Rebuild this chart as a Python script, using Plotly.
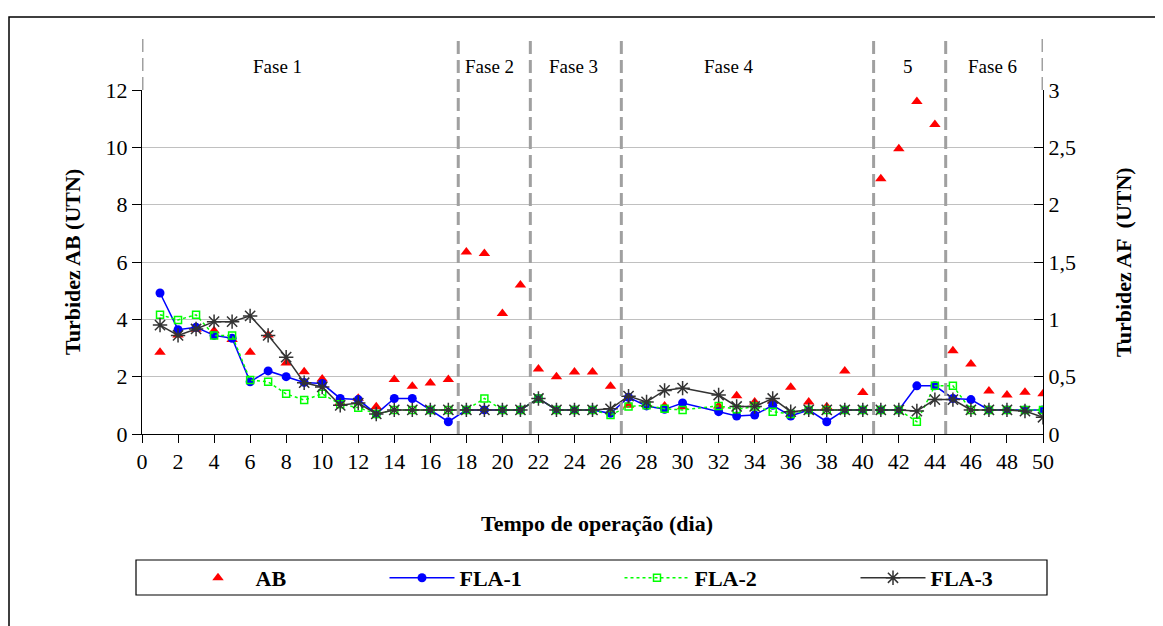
import plotly.graph_objects as go

# ---------------- data ----------------
days = list(range(1, 31)) + list(range(32, 51))

ab = [2.85, 3.45, 3.65, 3.6, 3.3, 2.85, 3.45, 2.48, 2.17, 1.92,
      1.1, 1.25, 0.95, 1.9, 1.67, 1.78, 1.9, 6.35, 6.3, 4.2,
      5.2, 2.27, 2.0, 2.16, 2.16, 1.67, 1.0, 1.05, 0.98, 0.95,
      0.98, 1.33, 1.12, 1.15, 1.63, 1.12, 0.95, 2.2, 1.45,
      8.9, 9.95, 11.6, 10.8, 2.9, 2.44, 1.5, 1.36, 1.46, 1.4]

fla1 = [1.23, 0.91, 0.93, 0.86, 0.835, 0.455, 0.55, 0.50, 0.45, 0.44,
        0.31, 0.30, 0.175, 0.31, 0.31, 0.21, 0.107, 0.21, 0.21, 0.21,
        0.21, 0.31, 0.21, 0.21, 0.21, 0.18, 0.32, 0.245, 0.215, 0.27,
        0.195, 0.157, 0.166, 0.25, 0.157, 0.21, 0.107, 0.21, 0.21,
        0.21, 0.21, 0.42, 0.42, 0.31, 0.30, 0.21, 0.21, 0.21, 0.21]

fla2 = [1.04, 0.995, 1.04, 0.86, 0.86, 0.47, 0.455, 0.35, 0.296, 0.35,
        0.26, 0.23, 0.175, 0.21, 0.21, 0.21, 0.21, 0.21, 0.31, 0.21,
        0.21, 0.31, 0.21, 0.21, 0.21, 0.166, 0.24, 0.25, 0.22, 0.21,
        0.245, 0.215, 0.24, 0.195, 0.175, 0.21, 0.21, 0.21, 0.21,
        0.21, 0.21, 0.107, 0.42, 0.42, 0.21, 0.21, 0.21, 0.21, 0.21]

fla3 = [0.95, 0.86, 0.916, 0.98, 0.98, 1.03, 0.86, 0.67, 0.447, 0.41,
        0.25, 0.27, 0.175, 0.21, 0.21, 0.21, 0.21, 0.21, 0.21, 0.21,
        0.21, 0.31, 0.21, 0.21, 0.21, 0.22, 0.33, 0.28, 0.38, 0.40,
        0.34, 0.24, 0.24, 0.31, 0.195, 0.21, 0.21, 0.21, 0.21,
        0.21, 0.21, 0.20, 0.30, 0.30, 0.21, 0.21, 0.21, 0.20, 0.146]

phase_bounds = [17.55, 21.55, 26.6, 40.6, 44.6]
phase_edges = [0, 50]
phase_labels = ["Fase 1", "Fase 2", "Fase 3", "Fase 4", "5", "Fase 6"]
phase_label_x = [7.5, 19.3, 23.97, 32.6, 42.5, 47.2]

x_ticks = list(range(0, 51, 2))
y_left_ticks = list(range(0, 13, 2))
y_right_ticks = [0, 0.5, 1, 1.5, 2, 2.5, 3]
y_right_text = ["0", "0,5", "1", "1,5", "2", "2,5", "3"]

# ---------------- geometry helpers (page pixels -> paper) ----------------
OFF = 8                      # page body margin
W, H = 1155, 618
L, T = 134, 82
PW, PH = 901, 344
R, B = W - L - PW, H - T - PH


def px(xp):
    return (xp - OFF - L) / PW


def py(yp):
    return (T + PH + OFF - yp) / PH


FONT = "Liberation Serif"

fig = go.Figure()

fig.add_trace(go.Scatter(
    x=days, y=ab, name="AB", mode="markers",
    marker=dict(symbol="triangle-up", size=10, color="#ff0000"),
    yaxis="y", legend="legend"))

fig.add_trace(go.Scatter(
    x=days, y=fla1, name="FLA-1", mode="lines+markers",
    line=dict(color="#0000ff", width=1.5),
    marker=dict(symbol="circle", size=9, color="#0000ff"),
    yaxis="y2", legend="legend2"))

fig.add_trace(go.Scatter(
    x=days, y=fla2, name="FLA-2", mode="lines+markers",
    line=dict(color="#00ff00", width=1.5, dash="dot"),
    marker=dict(symbol="square-open", size=7, color="#00ff00",
                line=dict(width=1.5, color="#00ff00")),
    yaxis="y2", legend="legend3"))

fig.add_trace(go.Scatter(
    x=days, y=fla3, name="FLA-3", mode="lines+markers",
    line=dict(color="#333333", width=1.5),
    marker=dict(symbol="asterisk-open", size=12, color="#333333",
                line=dict(width=1.5, color="#333333")),
    yaxis="y2", legend="legend4"))

shapes = []
dash_style = dict(color="#a0a0a0", width=3, dash="13px,6px")
for b in phase_bounds:
    shapes.append(dict(type="line", xref="x", yref="paper", x0=b, x1=b,
                       y0=0, y1=py(38), line=dash_style, layer="above"))
for b in phase_edges:
    shapes.append(dict(type="line", xref="x", yref="paper", x0=b, x1=b,
                       y0=1, y1=py(38), line=dash_style, layer="above"))

# legend frame
shapes.append(dict(type="rect", xref="paper", yref="paper",
                   x0=px(136), x1=px(1047), y0=py(595), y1=py(560),
                   line=dict(color="black", width=1.2), fillcolor="rgba(0,0,0,0)"))
# chart area frame
shapes.append(dict(type="rect", xref="paper", yref="paper",
                   x0=px(9), x1=px(1250), y0=py(750), y1=py(17),
                   line=dict(color="black", width=1.5), fillcolor="rgba(0,0,0,0)"))

annotations = []
for lab, lx in zip(phase_labels, phase_label_x):
    annotations.append(dict(text=lab, x=lx, xref="x", y=py(66), yref="paper",
                            showarrow=False, xanchor="center", yanchor="middle",
                            font=dict(family=FONT, size=19, color="black")))

annotations.append(dict(text="Turbidez AB (UTN)", x=px(72), y=py(262),
                        xref="paper", yref="paper", textangle=-90, showarrow=False,
                        xanchor="center", yanchor="middle",
                        font=dict(family=FONT, size=22, color="black", weight="bold")))
annotations.append(dict(text="Turbidez AF  (UTN)", x=px(1123), y=py(262),
                        xref="paper", yref="paper", textangle=-90, showarrow=False,
                        xanchor="center", yanchor="middle",
                        font=dict(family=FONT, size=22, color="black", weight="bold")))
annotations.append(dict(text="Tempo de operação (dia)", x=px(597), y=py(523),
                        xref="paper", yref="paper", showarrow=False,
                        xanchor="center", yanchor="middle",
                        font=dict(family=FONT, size=22, color="black", weight="bold")))

leg_common = dict(orientation="h", yanchor="middle", y=py(578), xanchor="left",
                  bgcolor="rgba(0,0,0,0)", borderwidth=0, itemwidth=65,
                  font=dict(family=FONT, size=22, color="black", weight="bold"))

fig.update_layout(
    width=W, height=H,
    margin=dict(l=L, r=R, t=T, b=B),
    paper_bgcolor="white", plot_bgcolor="white",
    showlegend=True,
    legend=dict(x=px(180.5), **leg_common),
    legend2=dict(x=px(384.5), **leg_common),
    legend3=dict(x=px(619.5), **leg_common),
    legend4=dict(x=px(855.5), **leg_common),
    xaxis=dict(range=[0, 50], tickvals=x_ticks, ticks="outside", ticklen=8,
               tickcolor="black", showline=True, linecolor="black", linewidth=1,
               showgrid=False, zeroline=False,
               tickfont=dict(family=FONT, size=22, color="black")),
    yaxis=dict(range=[0, 12], tickvals=y_left_ticks, ticks="outside", ticklen=9,
               tickcolor="black", showline=True, linecolor="black", linewidth=1,
               showgrid=True, gridcolor="#c0c0c0", gridwidth=1, zeroline=False,
               tickfont=dict(family=FONT, size=22, color="black")),
    yaxis2=dict(range=[0, 3], tickvals=y_right_ticks, ticktext=y_right_text,
                overlaying="y", side="right", ticks="inside", ticklen=9,
                tickcolor="black", showline=True, linecolor="black", linewidth=1,
                showgrid=False, zeroline=False,
                tickfont=dict(family=FONT, size=22, color="black")),
    shapes=shapes,
    annotations=annotations,
)

fig.write_html("out.html")
